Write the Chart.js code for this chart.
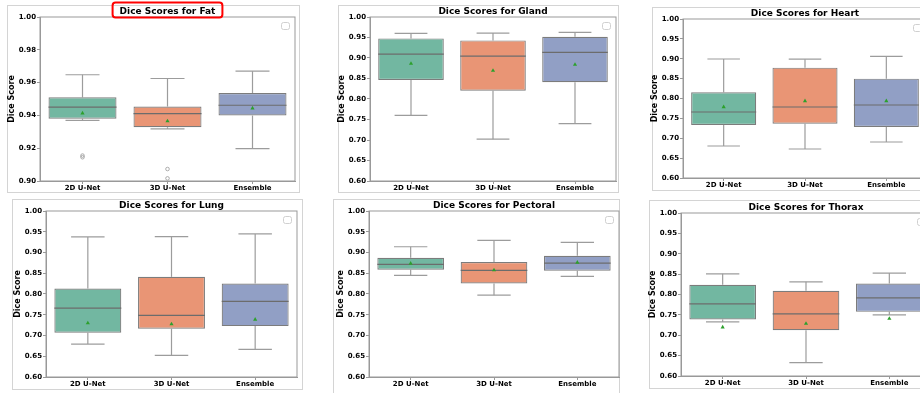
<!DOCTYPE html>
<html><head><meta charset="utf-8">
<script src="https://cdn.jsdelivr.net/npm/chart.js@4.4.1/dist/chart.umd.min.js"></script>
<style>
html,body{margin:0;padding:0;background:#fff;}
#wrap{position:relative;width:920px;height:393px;overflow:hidden;background:#fff;}
.frame{position:absolute;border:1px solid #d4d4d4;box-sizing:border-box;}
.pc{position:absolute;}
</style></head><body><div id="wrap"></div>
<script>
// ---------- data ----------
const categories = ['2D U-Net', '3D U-Net', 'Ensemble'];
const fatYTicks = [0.90, 0.92, 0.94, 0.96, 0.98, 1.00];
const organYTicks = [0.60, 0.65, 0.70, 0.75, 0.80, 0.85, 0.90, 0.95, 1.00];

// Fat
const fatLow = [0.937, 0.9318, 0.9198];
const fatQ1 = [0.938, 0.9328, 0.9399];
const fatMedian = [0.945, 0.9411, 0.9462];
const fatQ3 = [0.951, 0.9454, 0.9536];
const fatHigh = [0.9648, 0.9625, 0.967];
const fatMean = [0.9413, 0.9365, 0.9444];
const fatOutliers = [[0.9155, 0.9145], [0.9073, 0.9016], []];
// Gland
const glandLow = [0.760, 0.702, 0.740];
const glandQ1 = [0.8465, 0.8204, 0.8408];
const glandMedian = [0.9094, 0.9045, 0.9135];
const glandQ3 = [0.9478, 0.9429, 0.9518];
const glandHigh = [0.960, 0.9608, 0.9624];
const glandMean = [0.8865, 0.8694, 0.884];
// Heart
const heartLow = [0.6805, 0.673, 0.6906];
const heartQ1 = [0.7333, 0.7367, 0.7283];
const heartMedian = [0.766, 0.7786, 0.7836];
const heartQ3 = [0.8155, 0.8776, 0.850];
const heartHigh = [0.8994, 0.899, 0.906];
const heartMean = [0.7786, 0.7937, 0.7937];
// Lung
const lungLow = [0.6794, 0.6521, 0.6665];
const lungQ1 = [0.7066, 0.7162, 0.7226];
const lungMedian = [0.766, 0.7483, 0.782];
const lungQ3 = [0.8132, 0.8413, 0.8253];
const lungHigh = [0.9375, 0.9383, 0.9447];
const lungMean = [0.7299, 0.7275, 0.7387];
// Pectoral
const pectoralLow = [0.8447, 0.7972, 0.8423];
const pectoralQ1 = [0.8584, 0.8254, 0.8559];
const pectoralMedian = [0.8712, 0.8567, 0.8744];
const pectoralQ3 = [0.8873, 0.8769, 0.8922];
const pectoralHigh = [0.9139, 0.9292, 0.9243];
const pectoralMean = [0.8736, 0.8575, 0.876];
// Thorax
const thoraxLow = [0.7328, 0.6328, 0.750];
const thoraxQ1 = [0.7385, 0.7123, 0.7574];
const thoraxMedian = [0.777, 0.7525, 0.7918];
const thoraxQ3 = [0.8238, 0.809, 0.827];
const thoraxHigh = [0.8508, 0.8311, 0.8525];
const thoraxMean = [0.7197, 0.7287, 0.741];

// ---------- styles / layout ----------
const boxColors = ['#72b7a1', '#e99575', '#919fc5'];
const edgeColor = '#7c7c7c';
const whiskerColor = '#9c9c9c';
const medianColor = '#6c6c6c';
const spineColor = '#999999';
const meanColor = '#2ca02c';
Chart.defaults.font.family = '"DejaVu Sans", sans-serif';

const panels = [
  {title: 'Dice Scores for Fat', ticks: fatYTicks, low: fatLow, q1: fatQ1, med: fatMedian, q3: fatQ3, high: fatHigh, mean: fatMean, out: fatOutliers,
   canvas: [0, 0, 300, 195], pad: [17, 5], frame: [7, 5, 293, 188], highlight: true},
  {title: 'Dice Scores for Gland', ticks: organYTicks, low: glandLow, q1: glandQ1, med: glandMedian, q3: glandQ3, high: glandHigh, mean: glandMean, out: [[], [], []],
   canvas: [330, 0, 292, 195], pad: [17, 6], frame: [338, 5, 281, 188]},
  {title: 'Dice Scores for Heart', ticks: organYTicks, low: heartLow, q1: heartQ1, med: heartMedian, q3: heartQ3, high: heartHigh, mean: heartMean, out: [[], [], []],
   canvas: [643, 0, 290, 192], pad: [19, 6], frame: [652, 7, 280, 184]},
  {title: 'Dice Scores for Lung', ticks: organYTicks, low: lungLow, q1: lungQ1, med: lungMedian, q3: lungQ3, high: lungHigh, mean: lungMean, out: [[], [], []],
   canvas: [6, 193, 297, 198], pad: [18, 6], frame: [12, 199, 291, 191]},
  {title: 'Dice Scores for Pectoral', ticks: organYTicks, low: pectoralLow, q1: pectoralQ1, med: pectoralMedian, q3: pectoralQ3, high: pectoralHigh, mean: pectoralMean, out: [[], [], []],
   canvas: [329, 193, 296, 198], pad: [18, 6], frame: [333, 199, 287, 200]},
  {title: 'Dice Scores for Thorax', ticks: organYTicks, low: thoraxLow, q1: thoraxQ1, med: thoraxMedian, q3: thoraxQ3, high: thoraxHigh, mean: thoraxMean, out: [[], [], []],
   canvas: [641, 193, 296, 197], pad: [20, 6], frame: [649, 200, 280, 189]}
];

function seg(ctx, x1, y1, x2, y2) { ctx.beginPath(); ctx.moveTo(x1, y1); ctx.lineTo(x2, y2); ctx.stroke(); }

const boxPlugin = {
  id: 'boxExtras',
  beforeDatasetsDraw(chart, args, o) {
    const {ctx, scales: {x, y}} = chart;
    const cat = x.width / categories.length;
    ctx.save();
    ctx.strokeStyle = whiskerColor; ctx.lineWidth = 1.2;
    o.low.forEach((lo, i) => {
      const cx = x.getPixelForValue(i), hw = cat * 0.2;
      seg(ctx, cx, y.getPixelForValue(lo), cx, y.getPixelForValue(o.q1[i]));
      seg(ctx, cx, y.getPixelForValue(o.q3[i]), cx, y.getPixelForValue(o.high[i]));
      seg(ctx, cx - hw, y.getPixelForValue(lo), cx + hw, y.getPixelForValue(lo));
      seg(ctx, cx - hw, y.getPixelForValue(o.high[i]), cx + hw, y.getPixelForValue(o.high[i]));
    });
    ctx.restore();
  },
  afterDatasetDraw(chart, args, o) {
    if (args.index !== 0) return;
    const {ctx, scales: {x, y}} = chart;
    const cat = x.width / categories.length;
    ctx.save();
    ctx.strokeStyle = medianColor; ctx.lineWidth = 1.2;
    o.med.forEach((m, i) => {
      const cx = x.getPixelForValue(i), hw = cat * 0.4;
      seg(ctx, cx - hw, y.getPixelForValue(m), cx + hw, y.getPixelForValue(m));
    });
    ctx.restore();
  },
  afterDraw(chart, args, o) {
    const {ctx, chartArea: a} = chart;
    ctx.save();
    ctx.strokeStyle = spineColor; ctx.lineWidth = 1;
    ctx.strokeRect(a.left, a.top, a.right - a.left, a.bottom - a.top);
    // empty legend box
    ctx.fillStyle = '#fff'; ctx.strokeStyle = '#d0d0d0';
    ctx.beginPath(); ctx.roundRect(a.right - 13.5, a.top + 5.5, 8, 7, 2); ctx.fill(); ctx.stroke();
    // title
    const cx = (a.left + a.right) / 2, by = a.top - 3.5;
    ctx.fillStyle = '#000'; ctx.font = 'bold 9px "DejaVu Sans"';
    ctx.textAlign = 'center'; ctx.textBaseline = 'alphabetic';
    ctx.fillText(o.title, cx, by);
    if (o.highlight) {
      const w = ctx.measureText(o.title).width;
      ctx.strokeStyle = '#ff0000'; ctx.lineWidth = 2;
      ctx.beginPath(); ctx.roundRect(cx - w / 2 - 7, by - 11, w + 14, 15, 3); ctx.stroke();
    }
    ctx.restore();
  }
};

const wrap = document.getElementById('wrap');
panels.forEach(p => {
  const f = document.createElement('div');
  f.className = 'frame';
  f.style.left = p.frame[0] + 'px'; f.style.top = p.frame[1] + 'px';
  f.style.width = p.frame[2] + 'px'; f.style.height = p.frame[3] + 'px';
  wrap.appendChild(f);
});
panels.forEach(p => {
  const c = document.createElement('canvas');
  c.className = 'pc';
  c.width = p.canvas[2]; c.height = p.canvas[3];
  c.style.left = p.canvas[0] + 'px'; c.style.top = p.canvas[1] + 'px';
  c.style.width = p.canvas[2] + 'px'; c.style.height = p.canvas[3] + 'px';
  wrap.appendChild(c);
  const outPts = [];
  p.out.forEach((arr, i) => arr.forEach(v => outPts.push({x: categories[i], y: v})));
  new Chart(c, {
    type: 'bar',
    data: {
      labels: categories,
      datasets: [
        {type: 'bar', data: p.q1.map((v, i) => [v, p.q3[i]]), backgroundColor: boxColors, borderColor: edgeColor,
         borderWidth: 1.2, borderSkipped: false, barPercentage: 0.8, categoryPercentage: 1, order: 2},
        {type: 'line', data: p.mean, showLine: false, pointStyle: 'triangle', pointRadius: 2.4,
         pointBackgroundColor: meanColor, pointBorderColor: meanColor, pointBorderWidth: 0, order: 0},
        {type: 'line', data: outPts, showLine: false, pointStyle: 'circle', pointRadius: 1.8,
         pointBackgroundColor: 'rgba(0,0,0,0)', pointBorderColor: '#999', pointBorderWidth: 0.8, order: 1}
      ]
    },
    options: {
      responsive: false, animation: false, devicePixelRatio: 1,
      layout: {padding: {left: 0, top: p.pad[0], right: p.pad[1], bottom: 0}},
      plugins: {legend: {display: false}, tooltip: {enabled: false}, title: {display: false},
        boxExtras: {low: p.low, q1: p.q1, med: p.med, q3: p.q3, high: p.high, title: p.title, highlight: !!p.highlight}},
      scales: {
        x: {
          afterFit: s => { s.height = 14; },
          ticks: {font: {size: 7, weight: 'bold'}, color: '#000', padding: 0, maxRotation: 0, autoSkip: false},
          grid: {drawOnChartArea: false, tickLength: 3, color: spineColor, offset: false},
          border: {color: spineColor}
        },
        y: {
          min: p.ticks[0], max: p.ticks[p.ticks.length - 1],
          afterBuildTicks: s => { s.ticks = p.ticks.map(v => ({value: v})); },
          afterFit: s => { s.width = 40; },
          ticks: {font: {size: 7, weight: 'bold'}, color: '#000', padding: 1, callback: v => Number(v).toFixed(2)},
          grid: {drawOnChartArea: false, tickLength: 3, color: spineColor},
          border: {color: spineColor},
          title: {display: true, text: 'Dice Score', font: {size: 8, weight: 'bold'}, color: '#000', padding: {top: 7, bottom: 0}}
        }
      }
    },
    plugins: [boxPlugin]
  });
});
</script></body></html>
